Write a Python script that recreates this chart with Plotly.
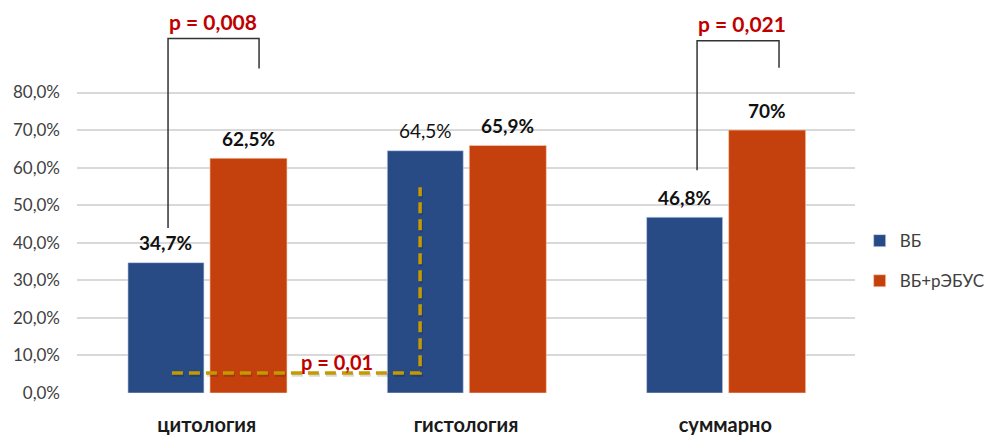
import plotly.graph_objects as go

# --- data ---
categories = ["цитология", "гистология", "суммарно"]
series_names = ["ВБ", "ВБ+рЭБУС"]
vb = [34.7, 64.5, 46.8]
vb_rebus = [62.5, 65.9, 70.0]
vb_labels = ["34,7%", "64,5%", "46,8%"]
vb_rebus_labels = ["62,5%", "65,9%", "70%"]
tick_values = [0, 10, 20, 30, 40, 50, 60, 70, 80]
tick_labels = ["0,0%", "10,0%", "20,0%", "30,0%", "40,0%", "50,0%", "60,0%", "70,0%", "80,0%"]
p_texts = ["p = 0,008", "p = 0,01", "p = 0,021"]

FONT = "Lato, 'Open Sans', sans-serif"
BLUE = "#284A85"
ORANGE = "#C4410E"
RED = "#C00000"
GOLD = "#C49A00"

# bar geometry in category units
W_BLUE, OFF_BLUE = 0.293, -0.3035
W_OR, OFF_OR = 0.297, 0.0127

fig = go.Figure()
fig.add_trace(go.Bar(
    x=categories, y=vb, name=series_names[0], legendgroup="a",
    width=[W_BLUE] * 3, offset=[OFF_BLUE] * 3,
    marker=dict(color=BLUE, line=dict(color="rgba(200,215,240,0.6)", width=1)),
))
fig.add_trace(go.Bar(
    x=categories, y=vb_rebus, name=series_names[1], legendgroup="b",
    width=[W_OR] * 3, offset=[OFF_OR] * 3,
    marker=dict(color=ORANGE, line=dict(color="rgba(250,210,180,0.6)", width=1)),
))

# value labels above each bar
bold_flags_vb = [True, False, True]
for i, (v, t) in enumerate(zip(vb, vb_labels)):
    fig.add_annotation(
        x=i + OFF_BLUE + W_BLUE / 2, y=v, text=(f"<b>{t}</b>" if bold_flags_vb[i] else t),
        showarrow=False, yanchor="middle", yshift=20,
        font=dict(family=FONT, size=19, color="#111111"),
    )
for i, (v, t) in enumerate(zip(vb_rebus, vb_rebus_labels)):
    fig.add_annotation(
        x=i + OFF_OR + W_OR / 2, y=v, text=f"<b>{t}</b>",
        showarrow=False, yanchor="middle", yshift=20,
        font=dict(family=FONT, size=19, color="#111111"),
    )

# significance brackets
def bracket(x0, x1, y_left, y_right, y_top):
    fig.add_shape(
        type="path", xref="x", yref="y",
        path=f"M {x0} {y_left} L {x0} {y_top} L {x1} {y_top} L {x1} {y_right}",
        line=dict(color="#333333", width=1.5),
    )

bracket(-0.149, 0.202, 43.9, 86.4, 94.4)
bracket(1.891, 2.207, 59.3, 86.6, 93.8)

fig.add_annotation(x=0.026, y=94.4, text=f"<b>{p_texts[0]}</b>", showarrow=False,
                   yanchor="middle", yshift=17, font=dict(family=FONT, size=21, color=RED))
fig.add_annotation(x=2.063, y=93.8, text=f"<b>{p_texts[2]}</b>", showarrow=False,
                   yanchor="middle", yshift=17, font=dict(family=FONT, size=21, color=RED))

# dashed comparison line between cytology and histology (with a faint drop shadow)
fig.add_shape(
    type="path", xref="x", yref="y",
    path="M -0.130 4.8 L 0.827 4.8 L 0.827 54.3",
    line=dict(color="rgba(0,0,0,0.15)", width=3.5, dash="11px,6px"),
)
fig.add_shape(
    type="path", xref="x", yref="y",
    path="M -0.134 5.3 L 0.823 5.3 L 0.823 54.8",
    line=dict(color=GOLD, width=3.5, dash="11px,6px"),
)
fig.add_annotation(x=0.502, y=8.2, text=f"<b>{p_texts[1]}</b>", showarrow=False,
                   yanchor="middle", font=dict(family=FONT, size=20, color=RED))

fig.update_layout(
    width=992, height=435,
    margin=dict(l=77, r=137, t=5, b=42, autoexpand=False),
    paper_bgcolor="white", plot_bgcolor="white",
    barmode="overlay",
    showlegend=True,
    legend=dict(
        x=1.006, y=0.34, xanchor="left", yanchor="middle",
        font=dict(family=FONT, size=17, color="#404040"),
        tracegroupgap=15, bgcolor="rgba(0,0,0,0)",
    ),
    font=dict(family=FONT),
)
fig.update_xaxes(
    type="category", range=[-0.5, 2.5], showgrid=False, showline=False, zeroline=False,
    ticks="", ticklabelstandoff=18, automargin=False,
    tickfont=dict(family=FONT, size=20, color="#1a1a1a", weight="bold"),
)
fig.update_yaxes(
    range=[0, 103.3], tickvals=tick_values, ticktext=tick_labels,
    showgrid=True, gridcolor="#D9D9D9", gridwidth=1.5, zeroline=False, showline=False,
    ticks="", ticklabelstandoff=16, automargin=False,
    tickfont=dict(family=FONT, size=17, color="#404040"),
)

fig.write_html("out.html")
